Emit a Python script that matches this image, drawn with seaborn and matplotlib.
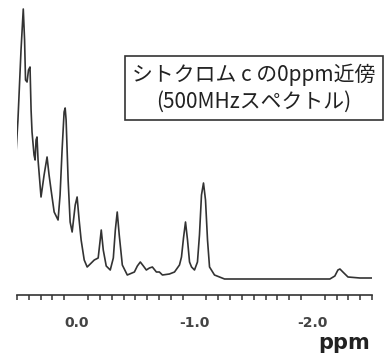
import matplotlib
matplotlib.use("Agg")
import matplotlib.pyplot as plt
import seaborn as sns
import pandas as pd
from matplotlib.ticker import MultipleLocator, FixedLocator

# Chemical shift (ppm) and relative intensity
ppm = [0.525, 0.508, 0.492, 0.466, 0.447, 0.436, 0.428, 0.415, 0.403, 0.390,
       0.381, 0.373, 0.356, 0.347, 0.339, 0.331, 0.322, 0.297, 0.271, 0.246,
       0.229, 0.212, 0.186, 0.153, 0.136, 0.119, 0.102, 0.093, 0.085, 0.068,
       0.051, 0.034, 0.008, -0.008, -0.025, -0.042, -0.068, -0.093, -0.119, -0.153,
       -0.186, -0.203, -0.212, -0.229, -0.254, -0.288, -0.314, -0.331, -0.347, -0.364,
       -0.390, -0.432, -0.492, -0.517, -0.542, -0.568, -0.593, -0.619, -0.644, -0.678,
       -0.703, -0.729, -0.788, -0.831, -0.873, -0.890, -0.907, -0.924, -0.941, -0.958,
       -0.975, -1.000, -1.025, -1.042, -1.059, -1.076, -1.093, -1.110, -1.127, -1.169,
       -1.254, -1.551, -1.890, -2.144, -2.186, -2.212, -2.229, -2.254, -2.297, -2.398,
       -2.508]
intensity = [112, 128, 160, 230, 271, 240, 200, 198, 210, 213,
             170, 148, 125, 120, 140, 143, 120, 83, 105, 123,
             105, 90, 68, 60, 85, 130, 168, 172, 160, 100,
             58, 48, 75, 83, 60, 40, 20, 13, 16, 20,
             22, 40, 50, 30, 14, 10, 22, 50, 68, 45,
             15, 5, 8, 14, 18, 14, 10, 12, 13, 8,
             8, 5, 6, 8, 15, 23, 42, 58, 40, 18,
             13, 10, 18, 45, 85, 97, 80, 40, 13, 5,
             1, 1, 1, 1, 4, 10, 11, 8, 3, 2,
             2]

major_ticks = [0.0, -1.0, -2.0]
major_labels = ["0.0", "-1.0", "-2.0"]
box_text = "シトクロム c の0ppm近傍\n(500MHzスペクトル)"
xlabel = "ppm"

sns.set_style("white")
plt.rcParams['font.family'] = ['DejaVu Sans']

df = pd.DataFrame({"ppm": ppm, "intensity": intensity})

W, H = 386, 359
fig = plt.figure(figsize=(W / 100, H / 100), dpi=100)
ax = fig.add_axes([17 / W, 1 - 295 / H, (372 - 17) / W, 295 / H])

sns.lineplot(data=df, x="ppm", y="intensity", ax=ax, sort=False, estimator=None,
             color="#333333", linewidth=1.2)

ax.set_xlim(0.5, -2.5)
ax.set_ylim(-15, 280)
for s in ["top", "left", "right"]:
    ax.spines[s].set_visible(False)
ax.spines["bottom"].set_color("#333333")
ax.spines["bottom"].set_linewidth(1.2)
ax.set_yticks([])
ax.set_ylabel("")
ax.set_xlabel("")
ax.xaxis.set_major_locator(FixedLocator(major_ticks))
ax.set_xticklabels(major_labels)
ax.xaxis.set_minor_locator(MultipleLocator(0.1))
ax.tick_params(axis="x", which="major", direction="out", length=12, width=1.1,
               color="#333333", pad=3, labelsize=10, labelcolor="#444444")
ax.tick_params(axis="x", which="minor", direction="out", length=3.6, width=1.1,
               color="#333333", bottom=True)
for lab in ax.get_xticklabels():
    lab.set_fontweight("bold")

fig.text(370 / W, 1 - 343 / H, xlabel, ha="right", va="center",
         fontsize=15, fontweight="bold", color="#222222", family="DejaVu Sans")

fig.text(254 / W, 1 - 88 / H, box_text, ha="center", va="center",
         fontsize=15, color="#222222", linespacing=1.28,
         family=["Noto Sans CJK JP", "DejaVu Sans"],
         bbox=dict(boxstyle="square,pad=0.35", facecolor="white",
                   edgecolor="#333333", linewidth=1.2))

fig.savefig("out.png", dpi=100, facecolor="white")
